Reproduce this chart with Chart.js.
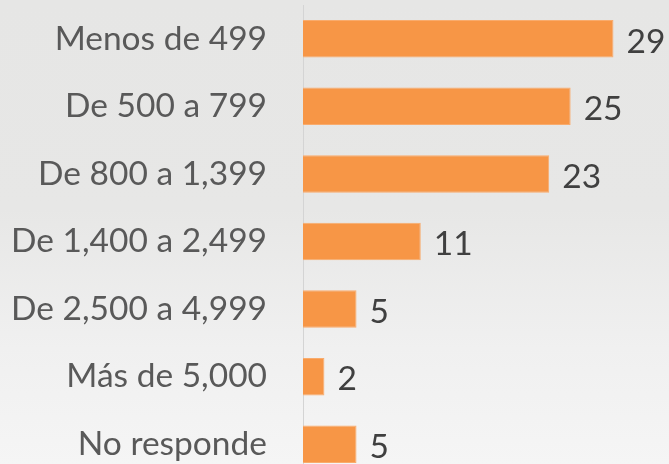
<!DOCTYPE html>
<html lang="es">

<head>
    <meta charset="UTF-8">
    <meta name="viewport" content="width=device-width, initial-scale=1.0">
    <title>Ingresos</title>
    <script src="https://cdn.jsdelivr.net/npm/chart.js"></script>
    <style>
        html, body {
            margin: 0;
            padding: 0;
            overflow: hidden;
        }

        body {
            width: 669px;
            height: 464px;
            background: linear-gradient(to bottom, #e6e6e5 0%, #e7e7e6 45%, #f0f0f0 75%, #f5f5f5 100%);
        }

        #graficoIngresos {
            display: block;
        }
    </style>
</head>

<body>
    <canvas id="graficoIngresos" width="669" height="478"></canvas>

<script>

    const categorias = [
        'Menos de 499',
        'De 500 a 799',
        'De 800 a 1,399',
        'De 1,400 a 2,499',
        'De 2,500 a 4,999',
        'Más de 5,000',
        'No responde',
    ];

    const valores = [29, 25, 23, 11, 5, 2, 5];

    const fuente = { family: 'Lato', size: 33.5 };

    // numeros al final de cada barra
    const etiquetasValor = {
        id: 'etiquetasValor',
        afterDatasetsDraw(chart) {
            const ctx = chart.ctx;
            const meta = chart.getDatasetMeta(0);
            ctx.save();
            ctx.font = fuente.size + 'px ' + fuente.family;
            ctx.fillStyle = '#404040';
            ctx.textAlign = 'left';
            ctx.textBaseline = 'middle';
            meta.data.forEach((barra, i) => {
                ctx.fillText(String(valores[i]), barra.x + 13, barra.y + 3);
            });
            ctx.restore();
        }
    };

    const data = {
        labels: categorias,
        datasets: [{
            data: valores,
            backgroundColor: '#f79646',
            borderColor: '#f9ab6c',
            borderWidth: 1,
            barPercentage: 0.555,
            categoryPercentage: 1,
        }]
    };

    const config = {
        type: 'bar',
        data: data,
        options: {
            indexAxis: 'y',
            responsive: false,
            animation: false,
            layout: {
                padding: { top: 5, right: 2, bottom: 0, left: 0 }
            },
            plugins: {
                legend: { display: false },
                tooltip: { enabled: false },
            },
            scales: {
                x: {
                    display: false,
                    min: 0,
                    max: 34,
                },
                y: {
                    afterFit(scale) {
                        scale.width = 303;
                        // sin margen extra arriba/abajo por las etiquetas
                        scale.paddingTop = 0;
                        scale.paddingBottom = 0;
                    },
                    grid: { display: false, drawTicks: false },
                    border: { display: true, color: '#d4d4d4', width: 1 },
                    ticks: {
                        color: '#595959',
                        font: fuente,
                        padding: 36,
                    },
                },
            },
        },
        plugins: [etiquetasValor],
    };

    const grafico = new Chart(
        document.getElementById('graficoIngresos'),
        config
    );

</script>
</body>

</html>
